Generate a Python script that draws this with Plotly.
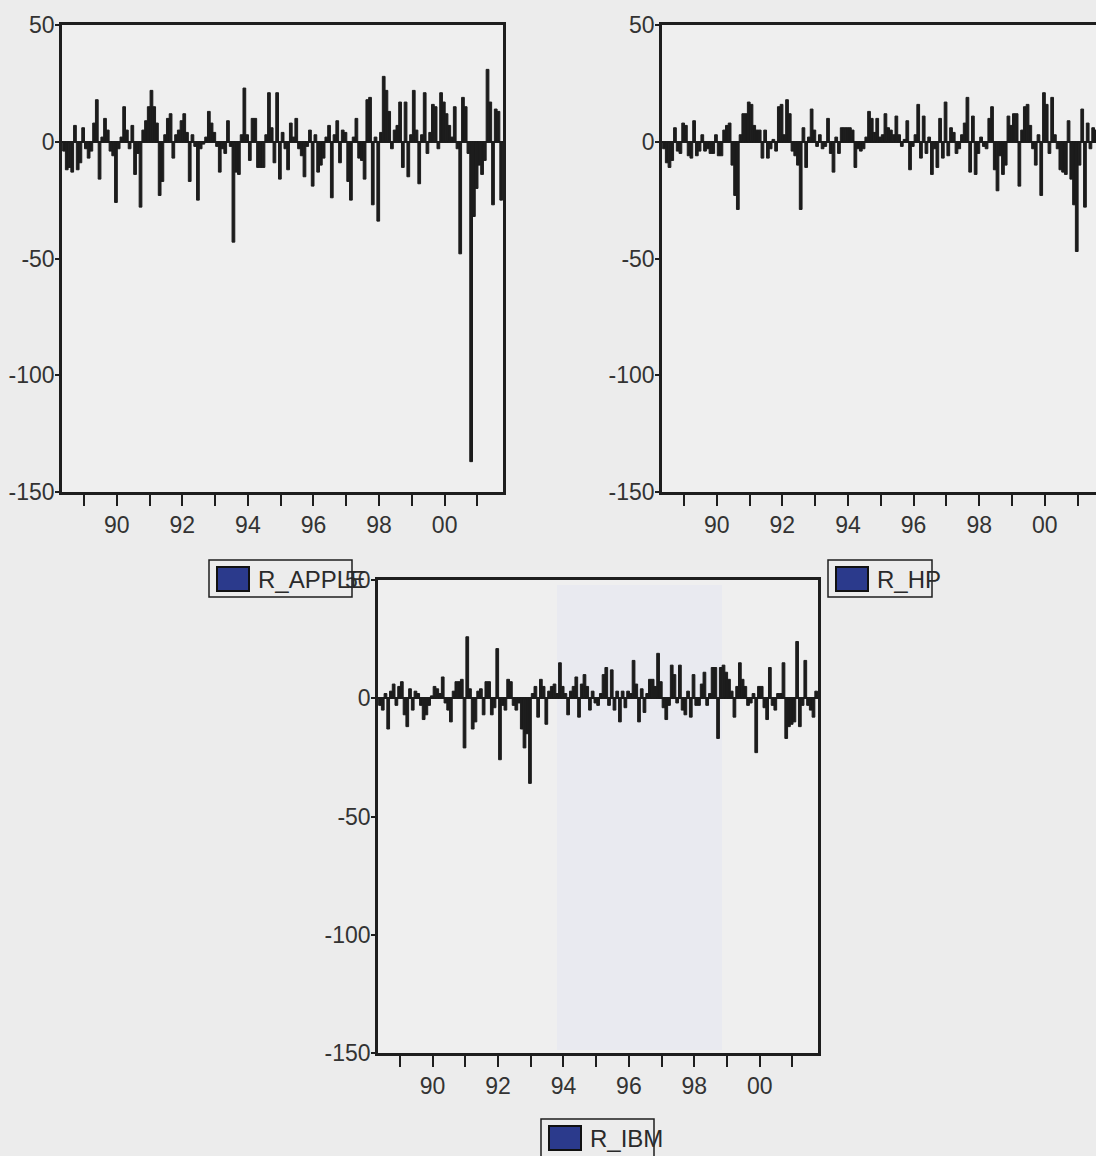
import plotly.graph_objects as go

W, H = 1096, 1156

# ---------------- data (monthly returns, %, 1988:05 - 2001:09) ----------------
start_year = 1988.35
r_apple = [
    -4, -12, -11, -13, 7, -12, -9, 6, -3, -7, -4, 8, 18, -16, 2, 10, 5, -4, -6, -26,
    -3, 2, 15, 5, -3, 7, -14, -5, -28, 5, 9, 15, 22, 15, 8, -23, -17, 3, 10, 12,
    -7, 3, 5, 9, 12, 4, -17, 3, -2, -25, -3, -1, 2, 13, 8, 4, -2, -13, -3, -5,
    9, -2, -43, -13, -14, 3, 23, 3, -8, 10, 10, -11, -11, -11, 3, 21, 6, -9, 21, -16,
    4, -3, -12, 8, 2, 10, -3, -6, -15, -2, 5, -19, 3, -13, -10, -7, 2, 7, -24, 3,
    9, -9, 5, 4, -17, -25, 2, 10, -7, -8, -16, 18, 19, -27, 2, -34, 4, 28, 22, 13,
    -3, 5, 7, 17, -11, 17, -15, 3, 22, 5, -18, 3, 21, -5, 4, 16, 15, -3, 21, 17,
    12, 7, 2, 15, -3, -48, 19, 15, -5, -137, -32, -20, -10, -14, -8, 31, 17, -27, 14, 13,
    -25,
]
r_hp = [
    -3, -9, -11, -8, 6, -4, -5, 8, 7, -6, -7, 9, -6, -4, 3, -4, -3, -5, -5, 3,
    -6, -6, 5, 7, 8, -10, -23, -29, 3, 12, 12, 17, 16, 7, 5, 5, -7, 5, -7, -3,
    1, -4, 15, 16, 3, 18, 12, -4, -6, -10, -29, 6, -11, 2, 14, 5, -2, 3, -3, -2,
    10, -5, -13, 2, -5, 6, 6, 6, 6, 5, -11, -3, -4, -3, 2, 13, 10, 4, 10, 2,
    3, 12, 6, 5, 3, 11, 3, -2, 1, 9, -12, -2, 3, 16, -7, 11, -5, 2, -14, -3,
    -11, 10, -7, 17, -6, 6, 4, -5, -3, 3, 8, 19, -13, 11, -14, -5, 2, -2, -3, 10,
    15, -12, -21, -6, -14, -10, 11, 7, 12, 12, -19, 5, 15, 16, 7, -3, -10, 3, -23, 21,
    16, -5, 19, 3, -3, -12, -13, -14, 9, -16, -27, -47, -10, 14, -28, 8, -3, 6, 5, -4,
    -6,
]
r_ibm = [
    -3, -5, 2, -13, 3, 6, -3, 5, 7, -7, -12, 4, -5, 3, 2, -3, -9, -7, -3, 1,
    5, 4, 2, 9, -2, -5, -10, 3, 7, 7, 8, -21, 26, 4, -13, -10, 3, 4, -7, 7,
    7, -7, -4, 21, -26, -3, -5, 8, 7, -3, -5, -2, -13, -21, -15, -36, 2, 5, -8, 8,
    5, -11, 3, 5, 6, 2, 15, 5, 2, -7, 3, 5, 9, -8, 6, 10, 5, -5, 3, -2,
    -3, 2, 10, 13, -3, 12, -5, 3, -10, 3, -4, 3, 2, 16, 6, -10, 4, -6, 2, 8,
    8, 5, 19, 7, -4, -9, -3, 14, 10, -2, 14, -5, -7, 3, -8, 10, -3, -3, 6, 11,
    -3, 2, 13, 13, -17, 13, 14, 11, 8, 3, -8, 5, 15, 8, 5, -3, -2, 2, -23, 5,
    5, -4, -9, 13, -3, -5, 2, 2, 15, -17, -12, -11, -10, 24, -12, -3, 16, -3, -5, -8,
    3,
]
series_names = ["R_APPLE", "R_HP", "R_IBM"]
year_ticks = list(range(1989, 2002))
year_labels = [("%02d" % (y % 100)) if y % 2 == 0 else "" for y in year_ticks]
y_ticks = [-150, -100, -50, 0, 50]
y_labels = ["-150", "-100", "-50", "0", "50"]

dates = [start_year + (i + 0.5) / 12.0 for i in range(len(r_apple))]


def px_x(p):
    return p / W


def px_y(p):
    return 1 - p / H


FONT = "Liberation Sans, Arial, sans-serif"
INK = "#1e1e1e"
BAR = "#1c1c1c"
BG = "#ECECEC"

fig = go.Figure()
for k, vals in enumerate([r_apple, r_hp, r_ibm]):
    sfx = "" if k == 0 else str(k + 1)
    fig.add_trace(go.Bar(
        x=dates, y=vals, xaxis="x" + sfx, yaxis="y" + sfx,
        width=1 / 12.0, marker=dict(color=BAR, line=dict(width=1, color=BAR)),
        showlegend=False, name=series_names[k],
    ))

panels = [
    # (x0, x1, ytop, ybot, x-range right, mirror y)
    (62, 503, 25, 492, 2001.78, True),
    (662, 1096, 25, 492, 1988.33 + (1096 - 662) / 32.8, False),
    (378, 818, 580, 1053, 2001.78, True),
]

layout = dict(
    width=W, height=H, margin=dict(l=0, r=0, t=0, b=0, autoexpand=False),
    paper_bgcolor=BG, plot_bgcolor="#EFEFEF",
    font=dict(family=FONT, color="#333333"),
    showlegend=False,
)
for k, (x0, x1, yt, yb, xr, my) in enumerate(panels):
    sfx = "" if k == 0 else str(k + 1)
    layout["xaxis" + sfx] = dict(
        domain=[px_x(x0), px_x(x1)], range=[1988.33, xr],
        anchor="y" + sfx, automargin=False,
        tickmode="array", tickvals=year_ticks, ticktext=year_labels,
        ticks="outside", ticklen=11, tickwidth=2, tickcolor=INK,
        showline=True, linewidth=2.5, linecolor=INK, mirror=True,
        showgrid=False, zeroline=False,
        tickfont=dict(size=23, color="#333333", family=FONT),
        ticklabelstandoff=0,
    )
    layout["yaxis" + sfx] = dict(
        domain=[px_y(yb), px_y(yt)], range=[-150, 50],
        anchor="x" + sfx, automargin=False,
        tickmode="array", tickvals=y_ticks, ticktext=y_labels,
        ticks="outside", ticklen=4, tickwidth=2, tickcolor=INK,
        showline=True, linewidth=2.5, linecolor=INK, mirror=my,
        showgrid=False, zeroline=True, zerolinecolor=INK, zerolinewidth=2,
        tickfont=dict(size=23, color="#333333", family=FONT),
        ticklabelstandoff=-4,
    )

shapes = []
annotations = []
# faint scanner tint in the lower panel
shapes.append(dict(type="rect", xref="paper", yref="paper", layer="below",
                   x0=px_x(557), x1=px_x(722), y0=px_y(1050), y1=px_y(585),
                   fillcolor="#E9EAF0", line=dict(width=0)))

legends = [
    # box x0, x1, y0, y1, label
    (209, 352, 560, 597, series_names[0]),
    (828, 932, 560, 597, series_names[1]),
    (541, 654, 1119, 1157, series_names[2]),
]
for (bx0, bx1, by0, by1, label) in legends:
    shapes.append(dict(type="rect", xref="paper", yref="paper",
                       x0=px_x(bx0), x1=px_x(bx1), y0=px_y(by1), y1=px_y(by0),
                       line=dict(color=INK, width=1.5), fillcolor="rgba(0,0,0,0)"))
    shapes.append(dict(type="rect", xref="paper", yref="paper",
                       x0=px_x(bx0 + 8), x1=px_x(bx0 + 40),
                       y0=px_y(by0 + 31), y1=px_y(by0 + 7),
                       line=dict(color="#111111", width=2), fillcolor="#2B3A8C"))
    annotations.append(dict(xref="paper", yref="paper", x=px_x(bx0 + 47), y=px_y(by0 + 19),
                            xanchor="left", yanchor="middle", showarrow=False,
                            text=label, font=dict(size=24, color="#2a2a2a", family=FONT)))

layout["shapes"] = shapes
layout["annotations"] = annotations
fig.update_layout(**layout)
fig.write_html("out.html")
